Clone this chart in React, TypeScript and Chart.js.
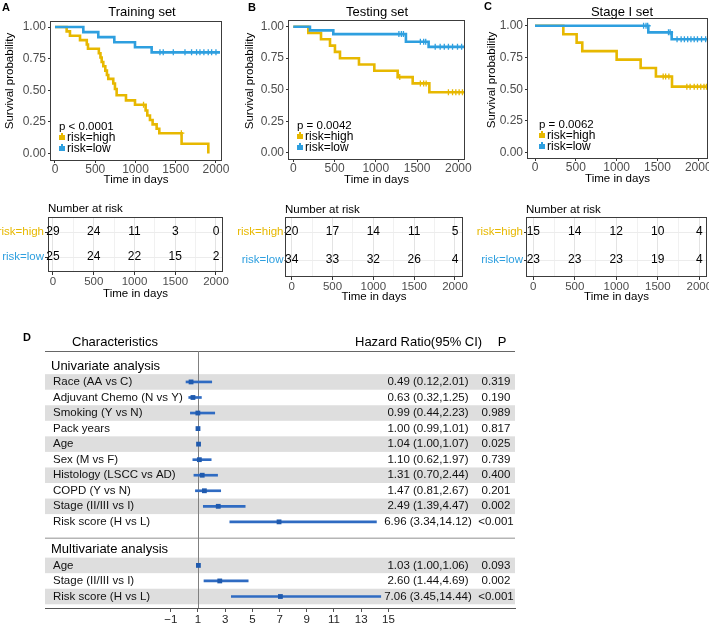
import React, { useEffect, useRef } from "react";
import { Chart, registerables } from "chart.js";

Chart.register(...registerables);
const FONT = "'Liberation Sans', Arial, Helvetica, sans-serif";
Chart.defaults.font.family = FONT;

const YELLOW = "#E7B800";
const BLUE = "#2E9FDF";
const TICK_TEXT = "#4d4d4d";
const FRAME = "#3c3c3c";

// ================= Kaplan–Meier data =================
const groupLabels = ["risk=high", "risk=low"];
const kmTicksX = [0, 500, 1000, 1500, 2000];
const kmTicksY = [0, 0.25, 0.5, 0.75, 1];

// A: Training set
const trainHighTimes = [0, 145, 186, 311, 395, 410, 545, 565, 580, 600, 625, 645, 662, 724, 745, 766, 882, 994, 1126, 1147, 1180, 1213, 1263, 1296, 1573, 1905];
const trainHighSurv = [1, 0.966, 0.931, 0.897, 0.862, 0.828, 0.793, 0.759, 0.724, 0.69, 0.655, 0.621, 0.59, 0.553, 0.51, 0.46, 0.42, 0.385, 0.34, 0.3, 0.265, 0.23, 0.195, 0.16, 0.077, 0];
const trainHighCensor = [1100, 1570];
const trainHighEnd = 1905;
const trainLowTimes = [0, 352, 538, 737, 994, 1201];
const trainLowSurv = [1, 0.96, 0.92, 0.88, 0.84, 0.8];
const trainLowCensor = [1304, 1345, 1470, 1615, 1697, 1759, 1801, 1850, 1904, 1946, 2000];
const trainLowEnd = 2050;
const trainP = "p < 0.0001";

// B: Testing set
const testHighTimes = [0, 182, 336, 445, 505, 566, 796, 982, 1265, 1447, 1649];
const testHighSurv = [1, 0.95, 0.9, 0.85, 0.8, 0.75, 0.7, 0.65, 0.6, 0.55, 0.48];
const testHighCensor = [1290, 1540, 1580, 1610, 1880, 1930, 1970, 2010, 2050, 2080];
const testHighEnd = 2090;
const testLowTimes = [0, 202, 485, 1365, 1640];
const testLowSurv = [1, 0.971, 0.941, 0.88, 0.84];
const testLowCensor = [1280, 1310, 1335, 1540, 1580, 1605, 1720, 1780, 1830, 1880, 1930, 1990, 2040, 2080];
const testLowEnd = 2090;
const testP = "p = 0.0042";

// C: Stage I set
const stageHighTimes = [0, 347, 510, 579, 1000, 1294, 1481, 1678];
const stageHighSurv = [1, 0.933, 0.867, 0.8, 0.733, 0.667, 0.6, 0.52];
const stageHighCensor = [1570, 1600, 1640, 1860, 1900, 1950, 1990, 2030, 2070, 2100];
const stageHighEnd = 2110;
const stageLowTimes = [0, 1388, 1674];
const stageLowSurv = [1, 0.948, 0.893];
const stageLowCensor = [1330, 1360, 1380, 1635, 1655, 1740, 1790, 1830, 1870, 1910, 1950, 1990, 2040, 2090];
const stageLowEnd = 2110;
const stageP = "p = 0.0062";

// Number at risk tables
const riskTimes = [0, 500, 1000, 1500, 2000];
const trainRiskHigh = [29, 24, 11, 3, 0];
const trainRiskLow = [25, 24, 22, 15, 2];
const testRiskHigh = [20, 17, 14, 11, 5];
const testRiskLow = [34, 33, 32, 26, 4];
const stageRiskHigh = [15, 14, 12, 10, 4];
const stageRiskLow = [23, 23, 23, 19, 4];

// ================= Forest plot data =================
const uniLabels = ["Race (AA vs C)", "Adjuvant Chemo (N vs Y)", "Smoking (Y vs N)", "Pack years", "Age", "Sex (M vs F)", "Histology (LSCC vs AD)", "COPD (Y vs N)", "Stage (II/III vs I)", "Risk score (H vs L)"];
const uniHR = [0.49, 0.63, 0.99, 1.0, 1.04, 1.1, 1.31, 1.47, 2.49, 6.96];
const uniLo = [0.12, 0.32, 0.44, 0.99, 1.0, 0.62, 0.7, 0.81, 1.39, 3.34];
const uniHi = [2.01, 1.25, 2.23, 1.01, 1.07, 1.97, 2.44, 2.67, 4.47, 14.12];
const uniP = ["0.319", "0.190", "0.989", "0.817", "0.025", "0.739", "0.400", "0.201", "0.002", "<0.001"];
const multiLabels = ["Age", "Stage (II/III vs I)", "Risk score (H vs L)"];
const multiHR = [1.03, 2.6, 7.06];
const multiLo = [1.0, 1.44, 3.45];
const multiHi = [1.06, 4.69, 14.44];
const multiP = ["0.093", "0.002", "<0.001"];
const forestTicks = [-1, 1, 3, 5, 7, 9, 11, 13, 15];

// ================= helpers =================
function stepPoints(times: number[], surv: number[], end: number) {
  const pts = times.map((t, i) => ({ x: t, y: surv[i] }));
  if (end > times[times.length - 1]) pts.push({ x: end, y: surv[surv.length - 1] });
  return pts;
}
function survAt(times: number[], surv: number[], t: number) {
  let s = surv[0];
  for (let i = 0; i < times.length; i++) if (times[i] <= t) s = surv[i];
  return s;
}

// ================= layouts =================
const kmPanels = [
  {
    canvas: { left: 0, top: 0, w: 236, h: 200 }, area: { l: 50, r: 222, t: 21, b: 161 },
    xRange: [-62, 2075], yRange: [-0.06, 1.048], title: "Training set", titlePos: [142, 12], letter: "A", letterPos: [6, 8],
    yTitlePos: [10, 81], xTitleY: 180, legendDx: 9,
    high: { times: trainHighTimes, surv: trainHighSurv, censor: trainHighCensor, end: trainHighEnd },
    low: { times: trainLowTimes, surv: trainLowSurv, censor: trainLowCensor, end: trainLowEnd }, p: trainP,
  },
  {
    canvas: { left: 236, top: 0, w: 236, h: 200 }, area: { l: 52, r: 229, t: 20, b: 160 },
    xRange: [-64, 2081], yRange: [-0.058, 1.053], title: "Testing set", titlePos: [141, 12], letter: "B", letterPos: [16, 8],
    yTitlePos: [14, 81], xTitleY: 180, legendDx: 9,
    high: { times: testHighTimes, surv: testHighSurv, censor: testHighCensor, end: testHighEnd },
    low: { times: testLowTimes, surv: testLowSurv, censor: testLowCensor, end: testLowEnd }, p: testP,
  },
  {
    canvas: { left: 472, top: 0, w: 237, h: 200 }, area: { l: 55, r: 236, t: 18, b: 159 },
    xRange: [-98, 2119], yRange: [-0.05, 1.061], title: "Stage I set", titlePos: [150, 12], letter: "C", letterPos: [16, 7],
    yTitlePos: [20, 80], xTitleY: 179, legendDx: 12,
    high: { times: stageHighTimes, surv: stageHighSurv, censor: stageHighCensor, end: stageHighEnd },
    low: { times: stageLowTimes, surv: stageLowSurv, censor: stageLowCensor, end: stageLowEnd }, p: stageP,
  },
];

const tablePanels = [
  { canvas: { left: 0, top: 200, w: 236, h: 105 }, area: { l: 48, r: 223, t: 17, b: 72 }, xRange: [-61, 2086], yRange: [-0.6, 1.6], headY: 9, xTitleY: 94, gap: 4, high: trainRiskHigh, low: trainRiskLow },
  { canvas: { left: 236, top: 200, w: 236, h: 105 }, area: { l: 49, r: 227, t: 17, b: 77 }, xRange: [-82, 2098], yRange: [-0.607, 1.536], headY: 10, xTitleY: 97, gap: 1.5, high: testRiskHigh, low: testRiskLow },
  { canvas: { left: 472, top: 200, w: 237, h: 105 }, area: { l: 54, r: 235, t: 17, b: 77 }, xRange: [-88, 2093], yRange: [-0.607, 1.536], headY: 10, xTitleY: 97, gap: 3, high: stageRiskHigh, low: stageRiskLow },
];

const forestBox = { left: 0, top: 320, w: 709, h: 304 };

// ================= plugins =================
const kmDecor = {
  id: "kmDecor",
  afterDraw(chart: any, _a: any, o: any) {
    const { ctx, chartArea: a } = chart;
    ctx.save();
    ctx.strokeStyle = FRAME;
    ctx.lineWidth = 1;
    ctx.strokeRect(a.left + 0.5, a.top + 0.5, a.right - a.left - 1, a.bottom - a.top - 1);
    ctx.fillStyle = "#000";
    ctx.textBaseline = "middle";
    ctx.textAlign = "center";
    ctx.font = `bold 11px ${FONT}`;
    ctx.fillText(o.letter, o.letterX, o.letterY);
    ctx.font = `13px ${FONT}`;
    ctx.fillText(o.title, o.titleX, o.titleY);
    ctx.save();
    ctx.translate(o.yTitleX, o.yTitleY);
    ctx.rotate(-Math.PI / 2);
    ctx.font = `11.5px ${FONT}`;
    ctx.fillText("Survival probability", 0, 0);
    ctx.restore();
    const lx = a.left + o.legendDx;
    ctx.textAlign = "left";
    ctx.font = `11.5px ${FONT}`;
    ctx.fillText(o.pText, lx, a.bottom - 34);
    const cols = [YELLOW, BLUE];
    for (let i = 0; i < 2; i++) {
      const y = a.bottom - 23.5 + i * 11;
      ctx.fillStyle = cols[i];
      ctx.fillRect(lx, y - 2.5, 6, 5);
      ctx.fillRect(lx + 2, y - 4.5, 2, 2);
      ctx.fillStyle = "#000";
      ctx.font = `12px ${FONT}`;
      ctx.fillText(groupLabels[i], lx + 8, y);
    }
    ctx.restore();
  },
};

const tableDecor = {
  id: "tableDecor",
  afterDraw(chart: any, _a: any, o: any) {
    const { ctx, chartArea: a } = chart;
    ctx.save();
    ctx.strokeStyle = FRAME;
    ctx.lineWidth = 1;
    ctx.strokeRect(a.left + 0.5, a.top + 0.5, a.right - a.left - 1, a.bottom - a.top - 1);
    ctx.fillStyle = "#000";
    ctx.textBaseline = "middle";
    ctx.textAlign = "left";
    ctx.font = `11.5px ${FONT}`;
    ctx.fillText("Number at risk", a.left, o.headY);
    ctx.textAlign = "center";
    ctx.font = `12px ${FONT}`;
    chart.data.datasets.forEach((ds: any, di: number) => {
      const meta = chart.getDatasetMeta(di);
      meta.data.forEach((el: any, i: number) => {
        ctx.fillText(String(ds.data[i].n), el.x, el.y);
      });
    });
    ctx.restore();
  },
};

const forestDecor = {
  id: "forestDecor",
  beforeDatasetsDraw(chart: any, _a: any, o: any) {
    const { ctx, chartArea: a, scales } = chart;
    const x = scales.x, y = scales.y;
    ctx.save();
    ctx.fillStyle = "#dedede";
    for (const r of o.bandRows) {
      const y0 = y.getPixelForValue(r - 0.5), y1 = y.getPixelForValue(r + 0.5);
      ctx.fillRect(a.left, Math.min(y0, y1), a.right - a.left, Math.abs(y1 - y0));
    }
    const sy = y.getPixelForValue(o.sepRow);
    ctx.strokeStyle = "#b5b5b5";
    ctx.lineWidth = 1.5;
    ctx.beginPath(); ctx.moveTo(a.left, sy); ctx.lineTo(a.right, sy); ctx.stroke();
    ctx.strokeStyle = "#666";
    ctx.lineWidth = 1;
    ctx.beginPath(); ctx.moveTo(a.left, a.top + 0.5); ctx.lineTo(a.right, a.top + 0.5); ctx.stroke();
    const x1 = Math.round(x.getPixelForValue(1)) + 0.5;
    ctx.strokeStyle = "#808080";
    ctx.beginPath(); ctx.moveTo(x1, a.top); ctx.lineTo(x1, a.bottom); ctx.stroke();
    ctx.restore();
  },
  afterDraw(chart: any, _a: any, o: any) {
    const { ctx, scales } = chart;
    const y = scales.y;
    ctx.save();
    ctx.fillStyle = "#000";
    ctx.textBaseline = "middle";
    ctx.textAlign = "center";
    ctx.font = `bold 11px ${FONT}`;
    ctx.fillText("D", 27, 18);
    ctx.textAlign = "left";
    ctx.font = `13px ${FONT}`;
    ctx.fillText("Characteristics", 72, 22);
    ctx.fillText("Hazard Ratio(95% CI)", 355, 22);
    ctx.textAlign = "center";
    ctx.fillText("P", 502, 22);
    ctx.textAlign = "left";
    for (const h of o.heads) ctx.fillText(h.text, 51, y.getPixelForValue(h.row));
    ctx.fillStyle = "#111";
    for (const r of o.rows) {
      const py = y.getPixelForValue(r.row);
      ctx.font = `11.5px ${FONT}`;
      ctx.textAlign = "left";
      ctx.fillText(r.label, 53, py);
      ctx.textAlign = "center";
      ctx.fillText(`${r.hr.toFixed(2)} (${r.lo.toFixed(2)},${r.hi.toFixed(2)})`, 428, py);
      ctx.fillText(r.p, 496, py);
    }
    ctx.restore();
  },
};

// ================= config builders =================
function makeKMConfig(p: any): any {
  const { canvas, area } = p;
  const line = (g: any, color: string, label: string) => ({
    type: "line", label, data: stepPoints(g.times, g.surv, g.end), borderColor: color, backgroundColor: color,
    borderWidth: 2.6, stepped: true, pointRadius: 0, fill: false,
  });
  const cens = (g: any, color: string, label: string) => ({
    type: "scatter", label, data: g.censor.map((t: number) => ({ x: t, y: survAt(g.times, g.surv, t) })),
    pointStyle: "cross", pointRadius: 3, borderColor: color, borderWidth: 1.3, showLine: false,
  });
  return {
    type: "line",
    data: {
      datasets: [
        line(p.low, BLUE, groupLabels[1]),
        line(p.high, YELLOW, groupLabels[0]),
        cens(p.low, BLUE, groupLabels[1]),
        cens(p.high, YELLOW, groupLabels[0]),
      ],
    },
    options: {
      responsive: false, animation: false, events: [], devicePixelRatio: 1,
      layout: { autoPadding: false, padding: { left: 0, top: area.t, right: canvas.w - area.r, bottom: 0 } },
      plugins: {
        legend: { display: false }, tooltip: { enabled: false },
        kmDecor: {
          letter: p.letter, letterX: p.letterPos[0], letterY: p.letterPos[1],
          title: p.title, titleX: p.titlePos[0], titleY: p.titlePos[1],
          yTitleX: p.yTitlePos[0], yTitleY: p.yTitlePos[1], legendDx: p.legendDx, pText: p.p,
        },
      },
      scales: {
        x: {
          type: "linear", min: p.xRange[0], max: p.xRange[1],
          afterBuildTicks: (s: any) => { s.ticks = kmTicksX.map((v) => ({ value: v })); },
          afterFit: (s: any) => { s.height = canvas.h - area.b; s.paddingLeft = 0; s.paddingRight = 0; },
          ticks: { color: TICK_TEXT, font: { size: 12 }, padding: -1, autoSkip: false, maxRotation: 0, callback: (v: any) => String(v) },
          grid: { drawOnChartArea: false, drawTicks: true, tickLength: 2, tickColor: "#333" },
          border: { display: false },
          title: { display: true, text: "Time in days", color: "#000", font: { size: 11.5 }, padding: { top: 0, bottom: canvas.h - p.xTitleY - 6.9 } },
        },
        y: {
          type: "linear", min: p.yRange[0], max: p.yRange[1],
          afterBuildTicks: (s: any) => { s.ticks = kmTicksY.map((v) => ({ value: v })); },
          afterFit: (s: any) => { s.width = area.l; s.paddingTop = 0; s.paddingBottom = 0; },
          ticks: { color: TICK_TEXT, font: { size: 12 }, padding: 2, autoSkip: false, callback: (v: any) => Number(v).toFixed(2) },
          grid: { drawOnChartArea: false, drawTicks: true, tickLength: 2, tickColor: "#333" },
          border: { display: false },
        },
      },
    },
    plugins: [kmDecor],
  };
}

function makeTableConfig(p: any): any {
  const { canvas, area } = p;
  const rowVal = [1, 0];
  const minor = riskTimes.slice(1).map((t, i) => (t + riskTimes[i]) / 2);
  const allTicks = [...riskTimes, ...minor].sort((a, b) => a - b);
  const isMajor = (v: number) => riskTimes.includes(v);
  return {
    type: "scatter",
    data: {
      datasets: [p.high, p.low].map((counts: number[], gi: number) => ({
        label: groupLabels[gi],
        data: riskTimes.map((t, i) => ({ x: t, y: rowVal[gi], n: counts[i] })),
        pointRadius: 0,
      })),
    },
    options: {
      responsive: false, animation: false, events: [], devicePixelRatio: 1,
      layout: { autoPadding: false, padding: { left: 0, top: area.t, right: canvas.w - area.r, bottom: 0 } },
      plugins: { legend: { display: false }, tooltip: { enabled: false }, tableDecor: { headY: p.headY } },
      scales: {
        x: {
          type: "linear", min: p.xRange[0], max: p.xRange[1],
          afterBuildTicks: (s: any) => { s.ticks = allTicks.map((v) => ({ value: v })); },
          afterFit: (s: any) => { s.height = canvas.h - area.b; s.paddingLeft = 0; s.paddingRight = 0; },
          ticks: { color: TICK_TEXT, font: { size: 11.5 }, padding: 0, autoSkip: false, maxRotation: 0, callback: (v: any) => (isMajor(Number(v)) ? String(v) : "") },
          grid: {
            drawOnChartArea: true, drawTicks: true, tickLength: 3,
            color: (c: any) => (c.tick && isMajor(c.tick.value) ? "#e3e3e3" : "#f1f1f1"),
            tickColor: (c: any) => (c.tick && isMajor(c.tick.value) ? "#333" : "rgba(0,0,0,0)"),
          },
          border: { display: false },
          title: { display: true, text: "Time in days", color: "#000", font: { size: 11.5 }, padding: { top: 0, bottom: canvas.h - p.xTitleY - 6.9 } },
        },
        y: {
          type: "linear", min: p.yRange[0], max: p.yRange[1],
          afterBuildTicks: (s: any) => { s.ticks = rowVal.map((v) => ({ value: v })); },
          afterFit: (s: any) => { s.width = area.l; s.paddingTop = 0; s.paddingBottom = 0; },
          ticks: {
            font: { size: 11.5 }, padding: 1, autoSkip: false,
            color: (c: any) => (c.tick && c.tick.value === 1 ? YELLOW : BLUE),
            callback: (v: any) => groupLabels[rowVal.indexOf(Number(v))],
          },
          grid: { drawOnChartArea: true, drawTicks: true, tickLength: Math.max(p.gap - 1, 0.1), color: "#ececec", tickColor: "#333" },
          border: { display: false },
        },
      },
    },
    plugins: [tableDecor],
  };
}

function makeForestConfig(): any {
  const uniRows = uniLabels.map((_, i) => i + 1);
  const multiHeadRow = uniLabels.length + 1.75;
  const multiRows = multiLabels.map((_, i) => multiHeadRow + 1.05 + i);
  const rows = [
    ...uniLabels.map((l, i) => ({ label: l, hr: uniHR[i], lo: uniLo[i], hi: uniHi[i], p: uniP[i], row: uniRows[i] })),
    ...multiLabels.map((l, i) => ({ label: l, hr: multiHR[i], lo: multiLo[i], hi: multiHi[i], p: multiP[i], row: multiRows[i] })),
  ];
  const bandRows = [...uniRows.filter((_, i) => i % 2 === 0), ...multiRows.filter((_, i) => i % 2 === 0)];
  const W = forestBox.w, H = forestBox.h;
  const area = { l: 45, r: 515, t: 31, b: 288 };
  return {
    type: "scatter",
    data: {
      datasets: [
        {
          type: "scatter", label: "HR", data: rows.map((r) => ({ x: r.hr, y: r.row })),
          pointStyle: "rect", pointRadius: 3.4, backgroundColor: "#1f5aae", borderColor: "#1f5aae", borderWidth: 0,
        },
        {
          type: "bar", label: "95% CI", indexAxis: "y", data: rows.map((r) => ({ x: [r.lo, r.hi], y: r.row })),
          backgroundColor: "#2f6bc2", borderWidth: 0, barThickness: 2, grouped: false,
        },
      ],
    },
    options: {
      responsive: false, animation: false, events: [], devicePixelRatio: 1,
      layout: { autoPadding: false, padding: { left: area.l, top: area.t, right: W - area.r, bottom: 0 } },
      plugins: {
        legend: { display: false }, tooltip: { enabled: false },
        forestDecor: {
          rows, bandRows, sepRow: uniLabels.length + 1.05,
          heads: [{ text: "Univariate analysis", row: 0 }, { text: "Multivariate analysis", row: multiHeadRow }],
        },
      },
      scales: {
        x: {
          type: "linear", min: -10.25, max: 24.31, offset: false,
          afterBuildTicks: (s: any) => { s.ticks = forestTicks.map((v) => ({ value: v })); },
          afterFit: (s: any) => { s.height = H - area.b; s.paddingLeft = 0; s.paddingRight = 0; },
          ticks: { color: "#222", font: { size: 11.5 }, padding: 1, autoSkip: false, maxRotation: 0, callback: (v: any) => (Number(v) < 0 ? "\u2212" + Math.abs(Number(v)) : String(v)) },
          grid: { drawOnChartArea: false, drawTicks: true, tickLength: 4, tickColor: "#555", offset: false },
          border: { display: true, color: "#555", width: 1 },
        },
        y: {
          type: "linear", reverse: true, min: -0.99, max: 15.54, display: false, offset: false,
          grid: { offset: false },
        },
      },
    },
    plugins: [forestDecor],
  };
}

// ================= components =================
function ChartCanvas({ box, build }: { box: any; build: () => any }) {
  const ref = useRef<HTMLCanvasElement>(null);
  useEffect(() => {
    const chart = new Chart(ref.current as HTMLCanvasElement, build());
    return () => chart.destroy();
  }, []);
  return (
    <canvas
      ref={ref}
      width={box.w}
      height={box.h}
      style={{ position: "absolute", left: box.left, top: box.top, width: box.w, height: box.h }}
    />
  );
}

export default function App() {
  return (
    <div style={{ position: "absolute", left: 0, top: 0, width: 709, height: 624, background: "#fff", overflow: "hidden" }}>
      {kmPanels.map((p, i) => (
        <ChartCanvas key={"km" + i} box={p.canvas} build={() => makeKMConfig(p)} />
      ))}
      {tablePanels.map((p, i) => (
        <ChartCanvas key={"tb" + i} box={p.canvas} build={() => makeTableConfig(p)} />
      ))}
      <ChartCanvas box={forestBox} build={makeForestConfig} />
    </div>
  );
}
